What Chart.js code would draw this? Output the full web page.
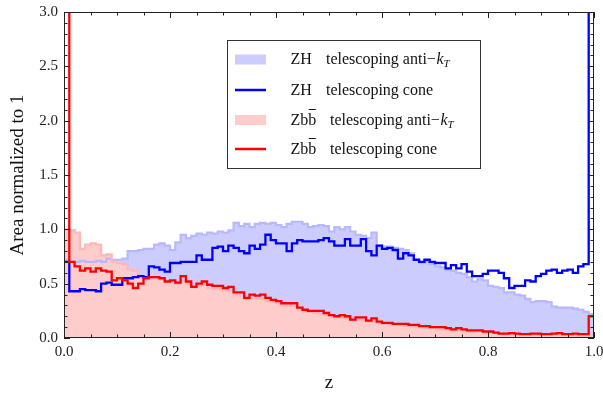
<!DOCTYPE html>
<html>
<head>
<meta charset="utf-8">
<script src="https://cdn.jsdelivr.net/npm/chart.js@4.4.1/dist/chart.umd.min.js"></script>
<style>
  html, body { margin: 0; padding: 0; background: #fff; }
  #chart { display: block; }
</style>
</head>
<body>
<canvas id="chart" width="603" height="397"></canvas>
<script>
// histogram bins: 100 bins of width 0.01 on z in [0, 1]
const BIN_WIDTH = 0.01;

// ZH, telescoping anti-kT (filled, light blue)
const zhAntiKt = [
  0.72, 0.70, 0.70, 0.71, 0.70, 0.70, 0.71, 0.70, 0.73, 0.72,
  0.72, 0.73, 0.80, 0.80, 0.81, 0.82, 0.82, 0.86, 0.87, 0.85,
  0.81, 0.88, 0.95, 0.92, 0.94, 0.96, 0.95, 0.97, 0.96, 0.98,
  0.97, 0.99, 1.06, 1.03, 1.05, 1.02, 1.05, 1.06, 1.05, 1.06,
  1.04, 1.02, 1.05, 1.07, 1.07, 1.05, 1.02, 1.03, 1.04, 1.03,
  0.98, 1.02, 1.00, 1.02, 0.98, 0.95, 0.94, 0.92, 0.97, 0.85,
  0.84, 0.84, 0.83, 0.82, 0.81, 0.78, 0.72, 0.69, 0.70, 0.68,
  0.66, 0.65, 0.63, 0.62, 0.60, 0.59, 0.56, 0.52, 0.54, 0.53,
  0.48, 0.47, 0.46, 0.42, 0.42, 0.40, 0.39, 0.36, 0.33, 0.34,
  0.34, 0.33, 0.29, 0.28, 0.28, 0.28, 0.27, 0.26, 0.24, 0.22
];

// ZH, telescoping cone (blue line) - last bin is the spike at z = 1
const zhCone = [
  0.70, 0.43, 0.43, 0.45, 0.44, 0.44, 0.43, 0.50, 0.51, 0.49,
  0.49, 0.55, 0.55, 0.56, 0.57, 0.56, 0.66, 0.65, 0.63, 0.61,
  0.69, 0.69, 0.70, 0.70, 0.70, 0.76, 0.72, 0.72, 0.83, 0.84,
  0.80, 0.85, 0.83, 0.80, 0.78, 0.85, 0.82, 0.86, 0.95, 0.90,
  0.87, 0.87, 0.80, 0.87, 0.90, 0.89, 0.89, 0.89, 0.90, 0.92,
  0.89, 0.85, 0.85, 0.91, 0.85, 0.85, 0.91, 0.80, 0.76, 0.85,
  0.82, 0.83, 0.81, 0.73, 0.78, 0.76, 0.72, 0.70, 0.72, 0.70,
  0.69, 0.69, 0.64, 0.67, 0.64, 0.68, 0.61, 0.57, 0.57, 0.59,
  0.62, 0.62, 0.60, 0.55, 0.46, 0.48, 0.48, 0.53, 0.52, 0.57,
  0.59, 0.62, 0.63, 0.60, 0.62, 0.63, 0.60, 0.66, 0.68, 3.50
];

// Zbb, telescoping anti-kT (filled, light red)
const zbbAntiKt = [
  1.00, 0.99, 0.97, 0.82, 0.86, 0.87, 0.86, 0.76, 0.77, 0.70,
  0.69, 0.68, 0.63, 0.62, 0.57, 0.56, 0.55, 0.55, 0.54, 0.53,
  0.52, 0.50, 0.53, 0.50, 0.48, 0.48, 0.49, 0.46, 0.45, 0.45,
  0.44, 0.43, 0.40, 0.39, 0.36, 0.37, 0.36, 0.36, 0.34, 0.33,
  0.32, 0.30, 0.30, 0.29, 0.27, 0.25, 0.24, 0.23, 0.22, 0.21,
  0.20, 0.19, 0.19, 0.18, 0.16, 0.17, 0.16, 0.15, 0.15, 0.14,
  0.13, 0.13, 0.12, 0.12, 0.11, 0.11, 0.10, 0.10, 0.09, 0.09,
  0.08, 0.08, 0.08, 0.07, 0.07, 0.07, 0.06, 0.06, 0.06, 0.05,
  0.05, 0.05, 0.04, 0.04, 0.04, 0.04, 0.035, 0.035, 0.03, 0.03,
  0.03, 0.03, 0.03, 0.03, 0.025, 0.025, 0.025, 0.025, 0.025, 0.03
];

// Zbb, telescoping cone (red line) - first bin is the spike at z = 0
const zbbCone = [
  3.50, 0.70, 0.66, 0.62, 0.64, 0.61, 0.64, 0.62, 0.61, 0.53,
  0.55, 0.53, 0.50, 0.46, 0.50, 0.55, 0.56, 0.56, 0.55, 0.52,
  0.53, 0.51, 0.57, 0.52, 0.47, 0.50, 0.52, 0.49, 0.48, 0.48,
  0.46, 0.47, 0.42, 0.42, 0.37, 0.40, 0.39, 0.40, 0.37, 0.35,
  0.34, 0.32, 0.32, 0.32, 0.28, 0.26, 0.25, 0.25, 0.25, 0.23,
  0.21, 0.20, 0.21, 0.20, 0.17, 0.19, 0.19, 0.16, 0.18, 0.15,
  0.14, 0.14, 0.13, 0.13, 0.13, 0.12, 0.12, 0.11, 0.11, 0.10,
  0.10, 0.10, 0.09, 0.08, 0.09, 0.08, 0.07, 0.07, 0.07, 0.06,
  0.06, 0.05, 0.04, 0.04, 0.045, 0.04, 0.035, 0.035, 0.04, 0.04,
  0.035, 0.035, 0.04, 0.045, 0.035, 0.035, 0.04, 0.035, 0.035, 0.20
];

const xTickLabels = [0, 0.2, 0.4, 0.6, 0.8, 1.0];
const yTickLabels = [0, 0.5, 1.0, 1.5, 2.0, 2.5, 3.0];
const seriesNames = [
  'ZH telescoping anti-kT', 'ZH telescoping cone',
  'Zbb\u0304 telescoping anti-kT', 'Zbb\u0304 telescoping cone'
];

const COLORS = {
  zhFill: 'rgb(204,204,255)',
  zhEdge: 'rgb(184,184,255)',
  zbbFill: 'rgb(255,204,204)',
  zbbEdge: 'rgb(255,184,184)',
  zhLine: 'rgb(0,0,255)',
  zbbLine: 'rgb(255,0,0)',
  axis: '#222'
};
const SERIF = "'Liberation Serif', 'DejaVu Serif', serif";

// bin contents -> step points at left edges, plus the closing right edge
function toSteps(values) {
  const pts = values.map((v, i) => ({ x: i * BIN_WIDTH, y: v }));
  pts.push({ x: values.length * BIN_WIDTH, y: values[values.length - 1] });
  return pts;
}

function stepDataset(label, values, opts) {
  return Object.assign({
    label: label,
    data: toSteps(values),
    stepped: 'before', // horizontal at the bin value, then vertical at the next edge
    pointRadius: 0,
    borderJoinStyle: 'miter',
    borderCapStyle: 'butt',
    fill: false
  }, opts);
}

// frame with inward ticks on all four sides
const frameTicks = {
  id: 'frameTicks',
  afterDraw(chart) {
    const { ctx, chartArea: a, scales: { x, y } } = chart;
    ctx.save();
    ctx.strokeStyle = COLORS.axis;
    ctx.lineWidth = 1;
    ctx.strokeRect(a.left + 0.5, a.top + 0.5, a.right - a.left - 1, a.bottom - a.top - 1);
    ctx.beginPath();
    for (let i = 0; i <= 20; i++) {
      const px = Math.round(x.getPixelForValue(i * 0.05)) + 0.5;
      const len = i % 4 === 0 ? 6 : 3.5;
      ctx.moveTo(px, a.bottom); ctx.lineTo(px, a.bottom - len);
      ctx.moveTo(px, a.top); ctx.lineTo(px, a.top + len);
    }
    for (let i = 0; i <= 30; i++) {
      const py = Math.round(y.getPixelForValue(i * 0.1)) + 0.5;
      const len = i % 5 === 0 ? 6 : 3.5;
      ctx.moveTo(a.left, py); ctx.lineTo(a.left + len, py);
      ctx.moveTo(a.right, py); ctx.lineTo(a.right - len, py);
    }
    ctx.stroke();
    ctx.restore();
  }
};

// legend box with the physics labels (k_T subscript, b-bar)
const physLegend = {
  id: 'physLegend',
  afterDraw(chart) {
    const ctx = chart.ctx;
    const box = { l: 227.5, t: 40.5, r: 480.5, b: 168.5 };
    ctx.save();
    ctx.fillStyle = '#fff';
    ctx.fillRect(box.l, box.t, box.r - box.l, box.b - box.t);
    ctx.strokeStyle = '#333';
    ctx.lineWidth = 1;
    ctx.strokeRect(box.l, box.t, box.r - box.l, box.b - box.t);

    const rows = [
      { swatch: 'fill', color: COLORS.zhFill, y: 59.5, base: 64, proc: 'ZH', anti: true },
      { swatch: 'line', color: COLORS.zhLine, y: 90, base: 94.5, proc: 'ZH', anti: false },
      { swatch: 'fill', color: COLORS.zbbFill, y: 120, base: 125, proc: 'Zbb', anti: true },
      { swatch: 'line', color: COLORS.zbbLine, y: 149, base: 154, proc: 'Zbb', anti: false }
    ];
    const regular = '16px ' + SERIF;
    rows.forEach(r => {
      if (r.swatch === 'fill') {
        ctx.fillStyle = r.color;
        ctx.fillRect(235, r.y - 5, 31, 10);
      } else {
        ctx.strokeStyle = r.color;
        ctx.lineWidth = 2.5;
        ctx.beginPath();
        ctx.moveTo(235, r.y); ctx.lineTo(266, r.y);
        ctx.stroke();
      }
      ctx.fillStyle = '#111';
      ctx.font = regular;
      ctx.textBaseline = 'alphabetic';
      ctx.textAlign = 'left';
      ctx.fillText(r.proc, 290.5, r.base);
      let tx = 326;
      if (r.proc === 'Zbb') {
        // bar over the second b
        const wZb = ctx.measureText('Zb').width;
        const wB = ctx.measureText('b').width;
        ctx.strokeStyle = '#111';
        ctx.lineWidth = 1;
        ctx.beginPath();
        ctx.moveTo(290.5 + wZb + 0.5, r.base - 15.5);
        ctx.lineTo(290.5 + wZb + wB - 0.5, r.base - 15.5);
        ctx.stroke();
        tx = 330;
      }
      const main = r.anti ? 'telescoping anti\u2212' : 'telescoping cone';
      ctx.fillText(main, tx, r.base);
      if (r.anti) {
        let kx = tx + ctx.measureText(main).width + 0.5;
        ctx.font = 'italic 16px ' + SERIF;
        ctx.fillText('k', kx, r.base);
        kx += ctx.measureText('k').width;
        ctx.font = 'italic 11px ' + SERIF;
        ctx.fillText('T', kx, r.base + 3);
      }
    });
    ctx.restore();
  }
};

const tickFont = { family: SERIF, size: 15 };

new Chart(document.getElementById('chart'), {
  type: 'line',
  data: {
    datasets: [
      stepDataset(seriesNames[3], zbbCone, { borderColor: COLORS.zbbLine, borderWidth: 2.3 }),
      stepDataset(seriesNames[1], zhCone, { borderColor: COLORS.zhLine, borderWidth: 2.3 }),
      stepDataset(seriesNames[2] + ' edge', zbbAntiKt, { borderColor: COLORS.zbbEdge, borderWidth: 2.2 }),
      stepDataset(seriesNames[0] + ' edge', zhAntiKt, { borderColor: COLORS.zhEdge, borderWidth: 2.2 }),
      stepDataset(seriesNames[2], zbbAntiKt, { borderWidth: 0, borderColor: 'rgba(0,0,0,0)', backgroundColor: COLORS.zbbFill, fill: 'origin' }),
      stepDataset(seriesNames[0], zhAntiKt, { borderWidth: 0, borderColor: 'rgba(0,0,0,0)', backgroundColor: COLORS.zhFill, fill: 'origin' })
    ]
  },
  options: {
    responsive: false,
    animation: false,
    events: [],
    layout: { padding: { left: 0, right: 9, top: 12, bottom: 0 } },
    plugins: {
      legend: { display: false },
      tooltip: { enabled: false }
    },
    scales: {
      x: {
        type: 'linear',
        min: 0,
        max: 1,
        afterBuildTicks: s => { s.ticks = xTickLabels.map(v => ({ value: v })); },
        ticks: {
          font: tickFont,
          color: '#222',
          padding: 5,
          maxRotation: 0,
          autoSkip: false,
          callback: v => v.toFixed(1)
        },
        grid: { display: false, drawTicks: false },
        border: { display: false },
        title: {
          display: true,
          text: 'z',
          font: { family: SERIF, size: 19 },
          color: '#111',
          padding: { top: 0, bottom: 3 }
        },
        afterFit: s => { s.height = 59; s.paddingLeft = 0; s.paddingRight = 0; }
      },
      y: {
        type: 'linear',
        min: 0,
        max: 3,
        afterBuildTicks: s => { s.ticks = yTickLabels.map(v => ({ value: v })); },
        ticks: {
          font: tickFont,
          color: '#222',
          padding: 6,
          callback: v => v.toFixed(1)
        },
        grid: { display: false, drawTicks: false },
        border: { display: false },
        title: {
          display: true,
          text: 'Area normalized to 1',
          font: { family: SERIF, size: 19 },
          color: '#111',
          padding: { top: 7, bottom: 0 }
        },
        afterFit: s => { s.width = 64; s.paddingTop = 0; s.paddingBottom = 0; }
      }
    }
  },
  plugins: [frameTicks, physLegend]
});
</script>
</body>
</html>
